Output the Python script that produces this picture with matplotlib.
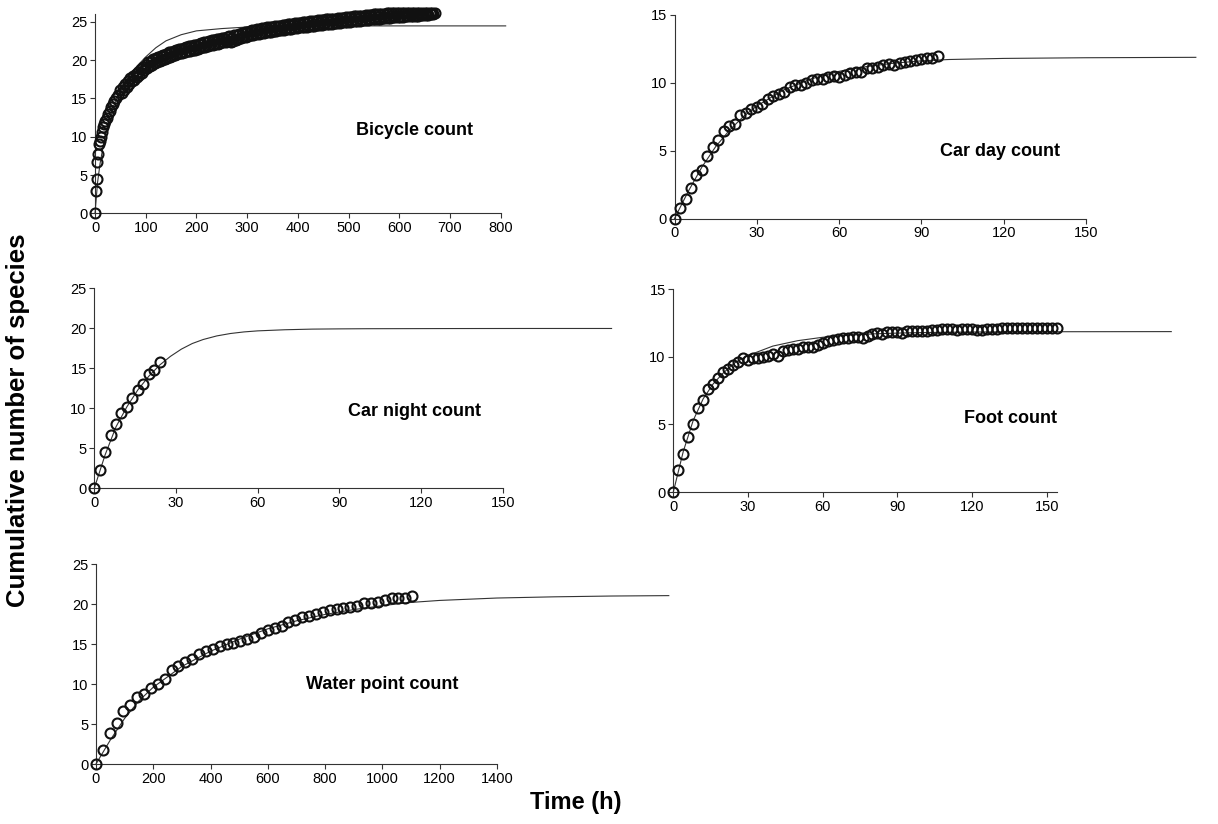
import numpy as np
import matplotlib
matplotlib.use("Agg")
import matplotlib.pyplot as plt

plt.rcParams['font.family'] = ['Liberation Sans', 'DejaVu Sans']

# ---- observed accumulation (hours, cumulative species) ----
# bicycle: dense band, read as upper / lower edge of the band every 2.5 h
bike_x = [0, 2, 3, 4, 6, 8, 10, 12, 14, 16, 18, 20, 23, 26, 29, 32, 35, 38, 41, 45] + list(np.arange(50, 670.1, 2.5))
bike_y = [0, 2.9, 4.5, 6.7, 7.8, 9.0, 9.5, 10.0, 10.6, 11.2, 11.6, 12.0, 12.5, 13.0, 13.4, 13.9, 14.3, 14.7, 15.0, 15.4,
          16.1, 15.7, 16.5, 16.1, 16.9, 16.5, 17.3, 16.9, 17.7, 17.2, 17.9, 17.45, 18.2, 17.75, 18.5, 18.05,
          18.8, 18.35, 19.1, 18.65, 19.4, 18.95, 19.7, 19.2, 19.9, 19.4, 20.1, 19.55, 20.2, 19.7, 20.4, 19.85,
          20.5, 20.0, 20.7, 20.15, 20.8, 20.3, 21.0, 20.45, 21.1, 20.55, 21.2, 20.65, 21.3, 20.75, 21.4, 20.85,
          21.5, 20.95, 21.6, 21.05, 21.7, 21.15, 21.8, 21.2, 21.85, 21.25, 21.9, 21.35, 22.0, 21.45, 22.1, 21.55,
          22.2, 21.65, 22.3, 21.75, 22.4, 21.85, 22.5, 21.95, 22.6, 22.0, 22.65, 22.1, 22.7, 22.15, 22.8, 22.2,
          22.85, 22.3, 22.9, 22.35, 23.0, 22.45, 23.1, 22.4, 22.9, 22.45, 23.2, 22.65, 23.3, 22.75, 23.4, 22.85,
          23.5, 22.95, 23.6, 23.05, 23.7, 23.15, 23.8, 23.25, 23.9, 23.3, 23.95, 23.35, 24.0, 23.45, 24.1, 23.5,
          24.15, 23.55, 24.2, 23.6, 24.25, 23.65, 24.3, 23.7, 24.35, 23.75, 24.4, 23.8, 24.45, 23.85, 24.5, 23.9,
          24.55, 23.95, 24.6, 24.0, 24.65, 24.05, 24.7, 24.1, 24.75, 24.15, 24.8, 24.2, 24.8, 24.25, 24.85, 24.25,
          24.9, 24.3, 24.95, 24.35, 25.0, 24.4, 25.05, 24.45, 25.1, 24.5, 25.15, 24.55, 25.2, 24.6, 25.2, 24.6,
          25.25, 24.65, 25.3, 24.7, 25.3, 24.7, 25.35, 24.75, 25.4, 24.8, 25.4, 24.8, 25.45, 24.85, 25.5, 24.9,
          25.5, 24.9, 25.55, 24.95, 25.6, 25.0, 25.65, 25.05, 25.7, 25.1, 25.7, 25.1, 25.75, 25.15, 25.8, 25.2,
          25.8, 25.2, 25.85, 25.25, 25.9, 25.3, 25.9, 25.3, 25.95, 25.35, 26.0, 25.4, 26.0, 25.4, 26.05, 25.45,
          26.05, 25.45, 26.1, 25.5, 26.1, 25.5, 26.1, 25.55, 26.1, 25.6, 26.1, 25.6, 26.1, 25.6, 26.1, 25.65,
          26.1, 25.7, 26.1, 25.7, 26.1, 25.75, 26.1, 25.75, 26.1, 25.8, 26.1, 25.8, 26.1, 25.85, 26.1, 25.85,
          26.1, 25.9, 26.1, 25.9, 26.1, 25.95, 26.1, 26.0, 26.1]

carday_x = list(range(0, 97, 2))
carday_y = [0, 0.75, 1.45, 2.25, 3.2, 3.6, 4.6, 5.3, 5.8, 6.45, 6.8, 7.0, 7.6, 7.75, 8.1, 8.25, 8.45, 8.8, 9.05,
            9.15, 9.35, 9.7, 9.85, 9.85, 10.0, 10.2, 10.3, 10.3, 10.45, 10.5, 10.45, 10.6, 10.75, 10.8, 10.8, 11.1,
            11.1, 11.2, 11.35, 11.4, 11.35, 11.45, 11.55, 11.6, 11.7, 11.75, 11.8, 11.85, 11.95]

night_x = list(range(0, 25, 2))
night_y = [0, 2.3, 4.6, 6.7, 8.0, 9.4, 10.2, 11.25, 12.3, 13.1, 14.3, 14.8, 15.8]

foot_x = list(range(0, 155, 2))
foot_y = [0, 1.6, 2.8, 4.1, 5.0, 6.2, 6.8, 7.6, 8.0, 8.4, 8.9, 9.1, 9.4, 9.6, 9.9, 9.8, 9.9, 9.9, 10.0, 10.1,
          10.2, 10.05, 10.4, 10.5, 10.55, 10.6, 10.7, 10.75, 10.75, 10.9, 11.0, 11.15, 11.25, 11.35, 11.4, 11.4,
          11.45, 11.45, 11.4, 11.55, 11.7, 11.75, 11.7, 11.85, 11.85, 11.85, 11.8, 11.9, 11.95, 11.95, 11.95, 11.9,
          12.0, 12.0, 12.05, 12.05, 12.05, 12.0, 12.05, 12.05, 12.05, 12.0, 12.0, 12.05, 12.05, 12.05, 12.1, 12.1,
          12.1, 12.1, 12.1, 12.1, 12.1, 12.1, 12.1, 12.1, 12.1, 12.1]

water_x = list(range(0, 1105, 24))
water_y = [0, 1.7, 3.85, 5.1, 6.6, 7.4, 8.4, 8.7, 9.5, 10.0, 10.65, 11.7, 12.3, 12.8, 13.1, 13.7, 14.1, 14.35,
           14.7, 15.0, 15.15, 15.4, 15.65, 15.9, 16.4, 16.7, 17.0, 17.2, 17.7, 18.0, 18.35, 18.5, 18.7, 19.05,
           19.25, 19.35, 19.45, 19.65, 19.75, 20.1, 20.1, 20.3, 20.5, 20.7, 20.8, 20.8, 21.0]

# ---- fitted curves ----
bike_fit_x = [0, 5, 10, 20, 30, 40, 60, 80, 100, 120, 140, 170, 200, 250, 300, 400, 500, 600, 810]
bike_fit_y = [0, 4.0, 6.5, 10.2, 12.7, 14.6, 17.2, 19.0, 20.4, 21.6, 22.5, 23.3, 23.8, 24.1, 24.3, 24.4, 24.45, 24.45, 24.45]

carday_fit_x = [0, 5, 10, 15, 20, 25, 30, 40, 50, 60, 70, 80, 90, 100, 120, 150, 190]
carday_fit_y = [0, 2.0, 3.8, 5.3, 6.5, 7.5, 8.3, 9.5, 10.3, 10.85, 11.2, 11.45, 11.62, 11.72, 11.8, 11.85, 11.88]

night_fit_x = [0, 4, 8, 12, 16, 20, 24, 28, 32, 36, 40, 45, 50, 55, 60, 70, 80, 90, 100, 130, 160, 190]
night_fit_y = [0, 4.2, 7.7, 10.2, 12.3, 14.0, 15.4, 16.5, 17.4, 18.1, 18.6, 19.05, 19.35, 19.55, 19.68, 19.82,
               19.9, 19.93, 19.95, 19.97, 19.98, 19.98]

foot_fit_x = [0, 4, 8, 12, 16, 20, 25, 30, 40, 50, 60, 70, 80, 90, 100, 120, 150, 200]
foot_fit_y = [0, 3.0, 5.3, 6.9, 8.0, 8.8, 9.6, 10.1, 10.8, 11.2, 11.45, 11.6, 11.7, 11.76, 11.8, 11.84, 11.86, 11.87]

water_fit_x = [0, 50, 100, 150, 200, 300, 400, 500, 600, 700, 800, 900, 1000, 1100, 1200, 1400, 1600, 1800, 2000]
water_fit_y = [0, 3.0, 5.7, 7.9, 9.6, 12.2, 14.1, 15.6, 16.9, 17.9, 18.7, 19.3, 19.8, 20.2, 20.45, 20.75, 20.9,
               21.0, 21.05]

panels = [
    # axes rect, data, fit, xlim, ylim, xticks, yticks, label, label pos
    ([0.0780, 0.7411, 0.3330, 0.2419], bike_x, bike_y, bike_fit_x, bike_fit_y,
     800, 26, range(0, 801, 100), range(0, 26, 5), "Bicycle count", (0.788, 0.418)),
    ([0.5538, 0.7348, 0.3379, 0.2470], carday_x, carday_y, carday_fit_x, carday_fit_y,
     150, 15, range(0, 151, 30), range(0, 16, 5), "Car day count", (0.790, 0.328)),
    ([0.0774, 0.4074, 0.3353, 0.2427], night_x, night_y, night_fit_x, night_fit_y,
     150, 25, range(0, 151, 30), range(0, 26, 5), "Car night count", (0.783, 0.383)),
    ([0.5528, 0.4029, 0.3148, 0.2460], foot_x, foot_y, foot_fit_x, foot_fit_y,
     154, 15, range(0, 151, 30), range(0, 16, 5), "Foot count", (0.880, 0.364)),
    ([0.0788, 0.0728, 0.3292, 0.2427], water_x, water_y, water_fit_x, water_fit_y,
     1400, 25, range(0, 1401, 200), range(0, 26, 5), "Water point count", (0.713, 0.40)),
]

fig = plt.figure(figsize=(12.18, 8.24), dpi=100)

for rect, x, y, fx, fy, xmax, ymax, xt, yt, label, pos in panels:
    ax = fig.add_axes(rect)
    ax.plot(fx, fy, color='#333333', lw=0.8, clip_on=False, zorder=2)
    ax.plot(x, y, 'o', mfc='none', mec='#111111', ms=7.2, mew=1.5, clip_on=False, zorder=3)
    ax.set_xlim(0, xmax)
    ax.set_ylim(0, ymax)
    ax.set_xticks(list(xt))
    ax.set_yticks(list(yt))
    for s in ['top', 'right']:
        ax.spines[s].set_visible(False)
    for s in ['left', 'bottom']:
        ax.spines[s].set_color('#333333')
        ax.spines[s].set_linewidth(0.8)
    ax.tick_params(direction='out', length=3.5, width=0.8, color='#333333',
                   labelsize=10.5, pad=2)
    ax.patch.set_alpha(0)
    ax.text(pos[0], pos[1], label, transform=ax.transAxes, ha='center', va='center',
            fontsize=13, fontweight='bold')

fig.text(0.0148, 0.49, "Cumulative number of species", rotation=90, ha='center', va='center',
         fontsize=18.5, fontweight='bold')
fig.text(0.473, 0.0255, "Time (h)", ha='center', va='center', fontsize=17, fontweight='bold')

fig.savefig("out.png", dpi=100)
